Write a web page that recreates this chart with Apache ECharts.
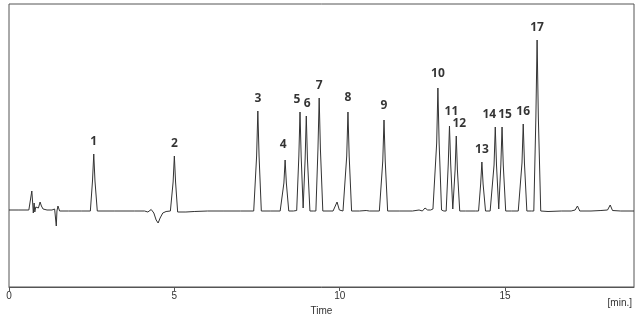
<!DOCTYPE html>
<html>
<head>
<meta charset="utf-8">
<script src="https://cdn.jsdelivr.net/npm/echarts@6/dist/echarts.min.js"></script>
<style>html,body{margin:0;padding:0;background:#fff}#c{width:640px;height:321px}</style>
</head>
<body>
<div id="c"></div>
<script>
// Detector trace: [time (min), signal (arbitrary units, baseline = 0)]
const trace = [
  [0,1],[0.3,1],[0.6,1],[0.66,3],[0.69,20],[0.72,6],[0.735,-2],[0.76,8],[0.78,-1],[0.81,4],[0.85,2],[0.89,3],[0.94,9],[0.98,5],[1.03,2],[1.15,1],[1.3,1],[1.38,2],[1.41,3],[1.43,-15],[1.45,0],[1.48,5],[1.53,0],[1.8,0],[2.2,0],
  [2.46,0],[2.525,30],[2.563,57],[2.60,30],[2.67,0],
  [3.2,0],[3.8,0],[4.1,0],[4.2,-1],[4.3,1.5],[4.38,-2],[4.45,-9],[4.51,-12],[4.57,-7],[4.65,-2],[4.75,-0.5],[4.88,0],
  [4.91,0],[4.963,29],[5.0,55],[5.037,29],[5.1,-1],[5.15,-2],[5.35,-1],[5.6,-0.5],[6.0,0],[6.5,0],[7.0,0],[7.4,0],
  [7.425,0],[7.488,55],[7.525,100],[7.562,55],[7.63,0],
  [7.9,0],[8.2,0],
  [8.25,0],[8.313,28],[8.35,51],[8.387,28],[8.46,0],
  [8.6,0],
  [8.70,0.5],[8.765,55],[8.80,99],[8.835,55],[8.895,3],[8.955,52],[8.99,95],[9.025,52],[9.10,0],
  [9.2,0],
  [9.28,0],[9.343,62],[9.38,113],[9.417,62],[9.49,0],
  [9.8,0],[9.85,1],[9.92,9],[9.99,1],
  [10.1,0],[10.15,0],[10.213,55],[10.25,99],[10.287,55],[10.36,0],
  [10.6,0],[10.8,0.5],[10.9,0],[11.2,0],
  [11.24,0],[11.303,50],[11.34,91],[11.377,50],[11.45,0],
  [11.8,0],[12.2,0],[12.4,1],[12.5,0],[12.58,3],[12.66,1],[12.75,1],[12.82,2],
  [12.87,1],[12.933,68],[12.97,123],[13.007,68],[13.08,1],[13.15,0],
  [13.22,0],[13.283,47],[13.32,85],[13.357,47],[13.42,2],[13.49,41],[13.525,75],[13.56,41],[13.63,0],
  [13.8,0],[14.1,0],
  [14.20,0],[14.263,27],[14.30,49],[14.337,27],[14.41,0],
  [14.55,0],
  [14.605,0],[14.668,46],[14.705,84],[14.742,46],[14.81,2],[14.873,46],[14.91,84],[14.947,46],[15.02,0],
  [15.2,0],[15.4,0],
  [15.45,0],[15.513,48],[15.55,87],[15.587,48],[15.66,0],
  [15.8,0],
  [15.87,0],[15.933,94],[15.97,171],[16.007,94],[16.08,0],
  [16.3,-0.5],[16.7,0],[17.0,0],[17.12,1],[17.19,5],[17.26,0],[17.6,0],[17.9,0.5],[18.1,1],[18.18,6],[18.25,0.5],[18.5,0],[18.9,0]
];

// Numbered peaks: names, apex times, apex heights
const peakNames = ["1","2","3","4","5","6","7","8","9","10","11","12","13","14","15","16","17"];
const peakTimes = [2.563,5.0,7.525,8.35,8.80,8.99,9.38,10.25,11.34,12.97,13.32,13.525,14.30,14.705,14.91,15.55,15.97];
const peakHeights = [57,55,100,51,99,95,113,99,91,123,85,75,49,84,84,87,171];

const xTicks = [0,5,10,15];

const labelNudge = {"4":[-2,-3],"5":[-3,0],"6":[1,0],"11":[2,-2],"12":[3,0],"14":[-6,0],"15":[3,0],"8":[0,-2],"9":[0,-2],"10":[0,-2]};

const chart = echarts.init(document.getElementById('c'), null, {renderer:'canvas'});
chart.setOption({
  animation:false,
  backgroundColor:'#fff',
  grid:{left:9,right:6,top:4,bottom:34,show:true,borderColor:'#555',borderWidth:1,backgroundColor:'transparent'},
  xAxis:{
    type:'value',min:0,max:18.9,
    name:'Time',nameLocation:'middle',nameGap:18,
    nameTextStyle:{fontFamily:'Liberation Sans',fontSize:10,color:'#333'},
    axisLine:{show:true,onZero:false,lineStyle:{color:'#555'}},
    axisTick:{show:true,customValues:xTicks,length:4,lineStyle:{color:'#555'}},
    axisLabel:{customValues:xTicks,fontFamily:'Liberation Sans',fontSize:10,color:'#333',margin:4},
    splitLine:{show:false}
  },
  yAxis:{type:'value',min:-76,max:207,show:false},
  graphic:[{type:'text',right:8,top:298,style:{text:'[min.]',font:'10px "Liberation Sans"',fill:'#333'}}],
  series:[
    {type:'line',data:trace,showSymbol:false,symbol:'none',lineStyle:{color:'#333',width:1},silent:true},
    {type:'scatter',symbolSize:0,silent:true,
     data:peakNames.map((n,i)=>({name:n,value:[peakTimes[i],peakHeights[i]],
       label:{offset:labelNudge[n]||[0,0]}})),
     label:{show:true,position:'top',distance:6,formatter:p=>p.name,
       fontFamily:'Open Sans',fontWeight:'bold',fontSize:12,color:'#000'}}
  ]
});
</script>
</body>
</html>
